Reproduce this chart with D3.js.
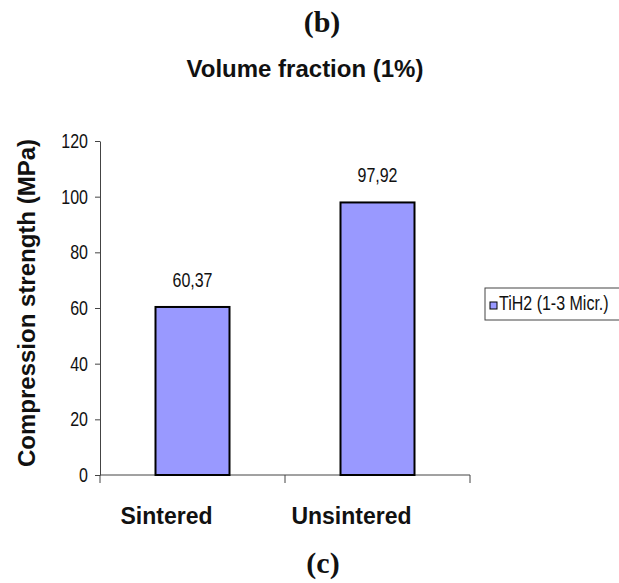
<!DOCTYPE html>
<html>
<head>
<meta charset="utf-8">
<script src="https://cdn.jsdelivr.net/npm/d3@7"></script>
<style>
  body { margin: 0; background: #fff; }
  svg { display: block; }
</style>
</head>
<body>
<svg id="chart"></svg>
<script>
const categories = ["Sintered", "Unsintered"];
const values = [60.37, 97.92];
const valueLabels = ["60,37", "97,92"];
const yTicks = [0, 20, 40, 60, 80, 100, 120];
const seriesName = "TiH2 (1-3 Micr.)";

const width = 619, height = 583;
const margin = {left: 100, right: 149, top: 141, bottom: 108};

const svg = d3.select("#chart")
    .attr("width", width)
    .attr("height", height);

const x = d3.scaleBand()
    .domain(categories)
    .range([margin.left, width - margin.right])
    .paddingInner(0.6)
    .paddingOuter(0.3);

const y = d3.scaleLinear()
    .domain([0, 120])
    .range([height - margin.bottom, margin.top]);

const sans = "Liberation Sans";
const serif = "Liberation Serif";
const squeeze = "scale(0.8,1)";  // narrow look for the plain text

// y axis
const yAxis = svg.append("g")
    .attr("transform", `translate(${margin.left},0)`)
    .call(d3.axisLeft(y).tickValues(yTicks).tickSize(5).tickSizeOuter(0).tickPadding(10));
yAxis.select(".domain").attr("stroke", "#444");
yAxis.selectAll(".tick line").attr("stroke", "#444");
yAxis.selectAll(".tick text")
    .attr("font-family", sans)
    .attr("font-size", 20)
    .attr("fill", "#111")
    .attr("transform", squeeze);

// x axis line, ticks between categories
const x0 = margin.left, x1 = width - margin.right;
const nb = categories.length;
svg.append("line")
    .attr("x1", x0).attr("x2", x1)
    .attr("y1", y(0)).attr("y2", y(0))
    .attr("stroke", "#444");
svg.selectAll(".xtick")
    .data(d3.range(nb + 1))
    .join("line")
    .attr("x1", i => x0 + (x1 - x0) * i / nb)
    .attr("x2", i => x0 + (x1 - x0) * i / nb)
    .attr("y1", y(0)).attr("y2", y(0) + 8)
    .attr("stroke", "#444");

// bars
const bw = x.bandwidth();
svg.selectAll(".bar")
    .data(values)
    .join("rect")
    .attr("x", (d, i) => x(categories[i]))
    .attr("y", d => y(d))
    .attr("width", bw)
    .attr("height", d => y(0) - y(d))
    .attr("fill", "#9999ff")
    .attr("stroke", "#000")
    .attr("stroke-width", 2);

// value labels
svg.selectAll(".vlabel")
    .data(values)
    .join("g")
    .attr("transform", (d, i) => `translate(${x(categories[i]) + bw / 2},${y(d) - 20})`)
  .append("text")
    .attr("transform", squeeze)
    .attr("text-anchor", "middle")
    .attr("font-family", sans)
    .attr("font-size", 20)
    .attr("fill", "#111")
    .text((d, i) => valueLabels[i]);

// category labels (sit a bit left of the bars)
svg.selectAll(".clabel")
    .data(categories)
    .join("text")
    .attr("x", d => x(d) + bw / 2 - 26)
    .attr("y", 524)
    .attr("text-anchor", "middle")
    .attr("font-family", sans)
    .attr("font-weight", "bold")
    .attr("font-size", 23)
    .attr("fill", "#111")
    .text(d => d);

// y axis title
svg.append("text")
    .attr("transform", "translate(35,303) rotate(-90)")
    .attr("text-anchor", "middle")
    .attr("font-family", sans)
    .attr("font-weight", "bold")
    .attr("font-size", 24)
    .attr("fill", "#111")
    .text("Compression strength (MPa)");

// chart title
svg.append("text")
    .attr("x", 305).attr("y", 77)
    .attr("text-anchor", "middle")
    .attr("font-family", sans)
    .attr("font-weight", "bold")
    .attr("font-size", 24)
    .attr("fill", "#111")
    .text("Volume fraction (1%)");

// panel labels
svg.append("text")
    .attr("x", 322).attr("y", 32)
    .attr("text-anchor", "middle")
    .attr("font-family", serif)
    .attr("font-weight", "bold")
    .attr("font-size", 30)
    .attr("fill", "#111")
    .text("(b)");
svg.append("text")
    .attr("x", 323).attr("y", 573)
    .attr("text-anchor", "middle")
    .attr("font-family", serif)
    .attr("font-weight", "bold")
    .attr("font-size", 30)
    .attr("fill", "#111")
    .text("(c)");

// legend
const lg = svg.append("g").attr("transform", "translate(485,288)");
lg.append("rect")
    .attr("x", 0).attr("y", 0)
    .attr("width", 140).attr("height", 32)
    .attr("fill", "#fff")
    .attr("stroke", "#444");
lg.append("rect")
    .attr("x", 5).attr("y", 14)
    .attr("width", 7).attr("height", 7)
    .attr("fill", "#9999ff")
    .attr("stroke", "#000")
    .attr("stroke-width", 1);
lg.append("g")
    .attr("transform", "translate(14,22)")
  .append("text")
    .attr("transform", squeeze)
    .attr("font-family", sans)
    .attr("font-size", 20)
    .attr("fill", "#111")
    .text(seriesName);
</script>
</body>
</html>
